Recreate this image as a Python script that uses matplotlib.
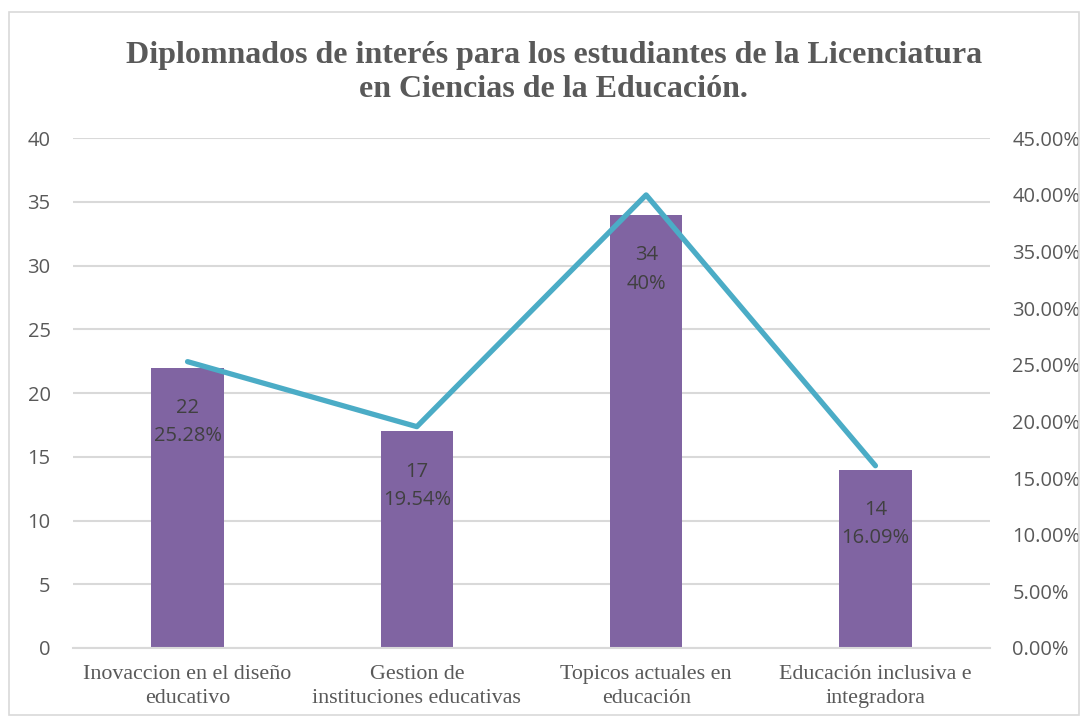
import numpy as np
import matplotlib
matplotlib.use('Agg')
from matplotlib import pyplot as plt
from matplotlib.patches import Rectangle

categories = ['Inovaccion en el diseño\neducativo',
              'Gestion de\ninstituciones educativas',
              'Topicos actuales en\neducación',
              'Educación inclusiva e\nintegradora']
counts = [22, 17, 34, 14]
percents = [25.28, 19.54, 40.0, 16.09]
pct_labels = ['25.28%', '19.54%', '40%', '16.09%']
title = ('Diplomnados de interés para los estudiantes de la Licenciatura\n'
         'en Ciencias de la Educación.')

bar_color = '#8064A2'
line_color = '#4BACC6'
grid_color = '#D9D9D9'
text_gray = '#595959'

fig = plt.figure(figsize=(10.88, 7.24), dpi=100)
ax = fig.add_axes([0.067, 0.105, 0.843, 0.704])
ax2 = ax.twinx()

x = np.arange(len(categories))
ax.bar(x, counts, width=0.315, color=bar_color, zorder=2)
ax.set_xlim(-0.5, len(categories) - 0.5)
ax.set_ylim(0, 40)
ax.set_yticks(range(0, 41, 5))
ax.yaxis.grid(True, color=grid_color, linewidth=1.5, zorder=0)
ax.set_axisbelow(True)
ax.set_xticks(x)
ax.set_xticklabels(categories, family='Liberation Serif', fontsize=15.8,
                   color=text_gray, linespacing=1.38)
ax.tick_params(axis='both', length=0)
ax.tick_params(axis='x', pad=12)
ax.tick_params(axis='y', pad=16, labelsize=14.5, labelcolor=text_gray)
for lab in ax.get_yticklabels():
    lab.set_family('Open Sans')
for s in ['top', 'left', 'right']:
    ax.spines[s].set_visible(False)
ax.spines['bottom'].set_color(grid_color)
ax.spines['bottom'].set_linewidth(1.5)

ax2.plot(x, percents, color=line_color, linewidth=3.8, solid_capstyle='round',
         zorder=3)
ax2.set_ylim(0, 45)
ax2.set_yticks(np.arange(0, 46, 5))
ax2.set_yticklabels(['%.2f%%' % v for v in np.arange(0, 46, 5)])
ax2.tick_params(axis='y', length=0, pad=16, labelsize=14.5,
                labelcolor=text_gray)
for lab in ax2.get_yticklabels():
    lab.set_family('Open Sans')
for s in ax2.spines.values():
    s.set_visible(False)

# data labels inside the bars
for xi, c, p in zip(x, counts, pct_labels):
    ax2.annotate('%d\n%s' % (c, p), xy=(xi, c * 45 / 40), xytext=(0, -22),
                 textcoords='offset points', ha='center', va='top',
                 fontsize=14.5, family='Open Sans', color='#404040',
                 linespacing=1.55, zorder=4)

fig.text(0.509, 0.9, title, ha='center', va='center',
         family='Liberation Serif', fontweight='bold', fontsize=23,
         color=text_gray, linespacing=1.2)

fig.patches.append(Rectangle((0.008, 0.012), 0.984, 0.972,
                             transform=fig.transFigure, fill=False,
                             edgecolor='#D9D9D9', linewidth=1.2))

fig.savefig('out.png', dpi=100)
